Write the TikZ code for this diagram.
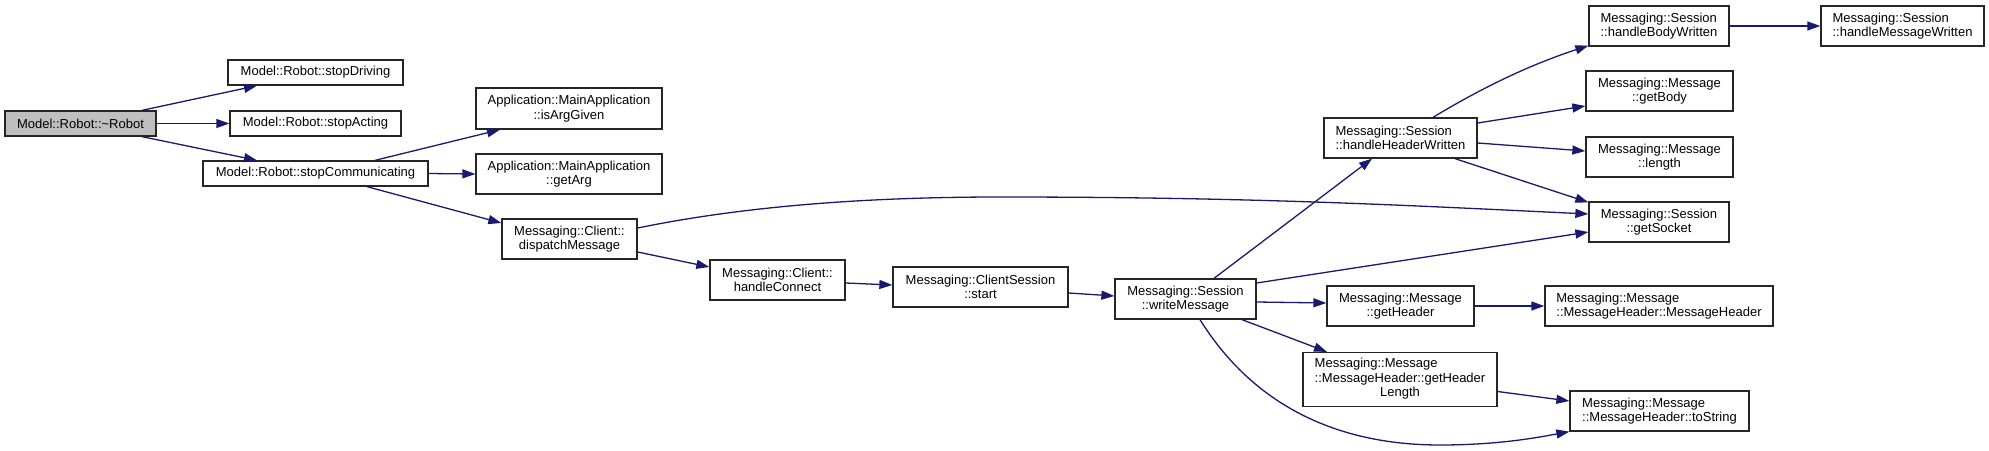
\documentclass[tikz,border=0pt]{standalone}
\usepackage{fontspec}
\setmainfont{Liberation Sans}
\usetikzlibrary{arrows.meta}
\definecolor{edgeblue}{HTML}{191970}
\definecolor{boxgray}{HTML}{BFBFBF}
\begin{document}
\begin{tikzpicture}[x=1pt,y=-1pt,
  fn/.style={draw=black!85, line width=1.3pt, fill=white, inner sep=0pt,
    font=\fontsize{13}{14.5}\selectfont, align=center},
  fnl/.style={fn, align=left},
  call/.style={draw=edgeblue, line width=1.3pt, -{Triangle[length=13pt,width=9pt]}}
]
\useasboundingbox (0,0) rectangle (1989,450);

% nodes
\node[fn, fill=boxgray, minimum width=151pt, minimum height=25pt] (robot) at (80.5,123.5) {Model::Robot::\textasciitilde Robot};
\node[fn, minimum width=175pt, minimum height=25pt] (stopDriving) at (315.5,72.5) {Model::Robot::stopDriving};
\node[fn, minimum width=171pt, minimum height=25pt] (stopActing) at (315.5,123.5) {Model::Robot::stopActing};
\node[fn, minimum width=225pt, minimum height=25pt] (stopComm) at (315.5,173.5) {Model::Robot::stopCommunicating};
\node[fn, minimum width=186pt, minimum height=41pt] (isArgGiven) at (569,108.5) {Application::MainApplication\\::isArgGiven};
\node[fn, minimum width=186pt, minimum height=40pt] (getArg) at (569,174) {Application::MainApplication\\::getArg};
\node[fn, minimum width=135pt, minimum height=40pt] (dispatch) at (569.5,239) {Messaging::Client::\\dispatchMessage};
\node[fn, minimum width=135pt, minimum height=40pt] (handleConnect) at (777.5,280) {Messaging::Client::\\handleConnect};
\node[fn, minimum width=175pt, minimum height=40pt] (start) at (980.5,287) {Messaging::ClientSession\\::start};
\node[fn, minimum width=141pt, minimum height=40pt] (writeMessage) at (1185.5,299) {Messaging::Session\\::writeMessage};
\node[fnl, minimum width=153pt, minimum height=40pt] (hHW) at (1400.5,138) {Messaging::Session\\::handleHeaderWritten};
\node[fn, minimum width=147pt, minimum height=40pt] (getHeader) at (1400.5,306) {Messaging::Message\\::getHeader};
\node[fn, minimum width=194pt, minimum height=54pt] (gHL) at (1400,379.5) {\begin{tabular}{@{}l@{}}Messaging::Message\\::MessageHeader::getHeader\\\multicolumn{1}{@{}c@{}}{Length}\end{tabular}};
\node[fnl, minimum width=140pt, minimum height=40pt] (hBW) at (1659,26) {Messaging::Session\\::handleBodyWritten};
\node[fnl, minimum width=163pt, minimum height=40pt] (hMW) at (1902.5,26) {Messaging::Session\\::handleMessageWritten};
\node[fn, minimum width=147pt, minimum height=40pt] (getBody) at (1659.5,91) {Messaging::Message\\::getBody};
\node[fn, minimum width=147pt, minimum height=40pt] (length) at (1659.5,157) {Messaging::Message\\::length};
\node[fn, minimum width=140pt, minimum height=40pt] (getSocket) at (1659,222) {Messaging::Session\\::getSocket};
\node[fnl, minimum width=228pt, minimum height=40pt] (MH) at (1659,306) {Messaging::Message\\::MessageHeader::MessageHeader};
\node[fnl, minimum width=179pt, minimum height=40pt] (toString) at (1659.5,411) {Messaging::Message\\::MessageHeader::toString};

% connectors
\draw[call] ([xshift=61.5pt]robot.north) -- ([xshift=-58.5pt]stopDriving.south);
\draw[call] (robot.east) -- (stopActing.west);
\draw[call] ([xshift=61.5pt]robot.south) -- ([xshift=-58.5pt]stopComm.north);
\draw[call] ([xshift=59.5pt]stopComm.north) -- ([xshift=-69pt]isArgGiven.south);
\draw[call] (stopComm.east) -- (getArg.west);
\draw[call] ([xshift=51.5pt]stopComm.south) -- ([yshift=16pt]dispatch.west);
\draw[call] ([yshift=11pt]dispatch.east) .. controls (740,207) and (860,197) .. (1000,197)
  .. controls (1250,197) and (1400,205) .. ([yshift=8pt]getSocket.west);
\draw[call] ([yshift=-13pt]dispatch.east) -- ([yshift=13pt]handleConnect.west);
\draw[call] ([yshift=-3pt]handleConnect.east) -- ([yshift=2pt]start.west);
\draw[call] ([yshift=-6pt]start.east) -- ([yshift=3pt]writeMessage.west);
\draw[call] ([xshift=28.5pt]writeMessage.north) -- ([xshift=-28.5pt]hHW.south);
\draw[call] ([yshift=16pt]writeMessage.east) -- ([yshift=-10pt]getSocket.west);
\draw[call] ([yshift=-3pt]writeMessage.east) -- ([yshift=3pt]getHeader.west);
\draw[call] ([xshift=56.5pt]writeMessage.south) -- ([xshift=-73pt]gHL.north);
\draw[call] ([xshift=14.5pt]writeMessage.south) .. controls (1250,400) and (1330,445) .. (1440,445)
  .. controls (1500,445) and (1540,437) .. (toString.south west);
\draw[call] ([yshift=-12pt]gHL.east) -- ([yshift=10pt]toString.west);
\draw[call] (getHeader.east) -- (MH.west);
\draw[call] ([xshift=32.5pt]hHW.north) .. controls (1470,95) and (1520,68) .. ([yshift=1pt]hBW.south west);
\draw[call] ([yshift=15pt]hHW.east) -- ([yshift=-15pt]getBody.west);
\draw[call] ([yshift=-5pt]hHW.east) -- ([yshift=6pt]length.west);
\draw[call] ([xshift=54.5pt]hHW.south) -- ([yshift=-1pt]getSocket.north west);
\draw[call] (hBW.east) -- (hMW.west);
\end{tikzpicture}
\end{document}
